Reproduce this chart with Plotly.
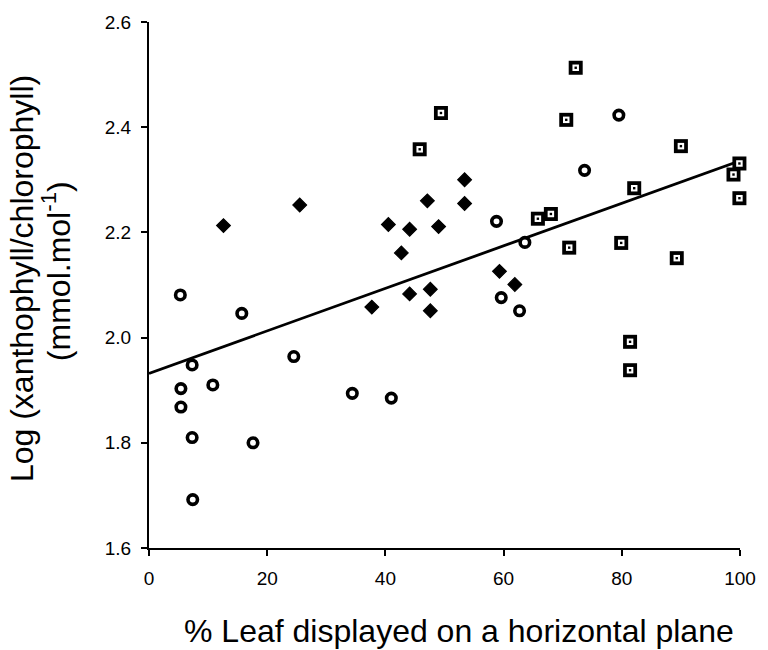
import plotly.graph_objects as go

# ---- data ----
circles_x = [5.3, 5.4, 5.4, 7.3, 7.3, 7.4, 10.8, 17.6, 15.7, 24.5, 34.4, 41.0,
             79.5, 73.7, 58.8, 63.6, 59.6, 62.7]
circles_y = [2.081, 1.903, 1.868, 1.948, 1.810, 1.692, 1.910, 1.800, 2.046, 1.964,
             1.894, 1.885, 2.423, 2.318, 2.221, 2.181, 2.076, 2.051]

diamonds_x = [12.6, 25.5, 37.7, 40.5, 42.7, 44.1, 44.1, 47.1, 47.6, 47.6, 49.0,
              53.4, 53.4, 59.3, 61.9]
diamonds_y = [2.213, 2.252, 2.058, 2.215, 2.161, 2.206, 2.083, 2.260, 2.092, 2.051,
              2.211, 2.300, 2.255, 2.126, 2.101]

squares_x = [49.4, 45.8, 70.6, 72.2, 90.0, 99.9, 98.9, 99.9, 82.1, 65.8, 68.0,
             71.1, 79.9, 89.3, 81.4, 81.4]
squares_y = [2.427, 2.358, 2.414, 2.513, 2.364, 2.331, 2.310, 2.265, 2.284, 2.226,
             2.235, 2.171, 2.180, 2.151, 1.992, 1.938]

fit_x = [0, 100]
fit_y = [1.932, 2.336]

x_ticks = [0, 20, 40, 60, 80, 100]
y_ticks = [1.6, 1.8, 2.0, 2.2, 2.4, 2.6]

FONT = "Liberation Sans, Arial, sans-serif"

fig = go.Figure()

fig.add_trace(go.Scatter(x=fit_x, y=fit_y, mode="lines",
                         line=dict(color="black", width=2.8),
                         hoverinfo="skip", cliponaxis=False))

fig.add_trace(go.Scatter(x=circles_x, y=circles_y, mode="markers",
                         marker=dict(symbol="circle", size=9.5, color="white",
                                     line=dict(color="black", width=3.6)),
                         cliponaxis=False))

fig.add_trace(go.Scatter(x=diamonds_x, y=diamonds_y, mode="markers",
                         marker=dict(symbol="diamond", size=10.5, color="black",
                                     line=dict(color="black", width=1.2)),
                         cliponaxis=False))

# squares: black square, white inner square, black centre dot
fig.add_trace(go.Scatter(x=squares_x, y=squares_y, mode="markers",
                         marker=dict(symbol="square", size=14, color="black",
                                     line=dict(width=0)),
                         cliponaxis=False))
fig.add_trace(go.Scatter(x=squares_x, y=squares_y, mode="markers",
                         marker=dict(symbol="square", size=6.5, color="white",
                                     line=dict(width=0)),
                         cliponaxis=False))
fig.add_trace(go.Scatter(x=squares_x, y=squares_y, mode="markers",
                         marker=dict(symbol="square", size=2.4, color="black",
                                     line=dict(width=0)),
                         cliponaxis=False))

fig.update_layout(
    width=768, height=650,
    margin=dict(l=149, r=20, t=16, b=102),
    paper_bgcolor="white", plot_bgcolor="white",
    showlegend=False,
    font=dict(family=FONT, color="black"),
    xaxis=dict(range=[0, 100], tickvals=x_ticks, ticktext=[str(v) for v in x_ticks],
               showline=True, linecolor="black", linewidth=2,
               ticks="outside", ticklen=6, tickwidth=1.5, tickcolor="black",
               showgrid=False, zeroline=False,
               tickfont=dict(size=19, family=FONT, color="black"),
               ticklabelstandoff=6),
    yaxis=dict(range=[1.6, 2.6], tickvals=y_ticks,
               ticktext=["%.1f" % v for v in y_ticks],
               showline=True, linecolor="black", linewidth=2,
               ticks="outside", ticklen=6, tickwidth=1.5, tickcolor="black",
               showgrid=False, zeroline=False,
               tickfont=dict(size=19, family=FONT, color="black"),
               ticklabelstandoff=6),
    annotations=[
        dict(text="% Leaf displayed on a horizontal plane",
             xref="paper", yref="paper", x=0.524, y=-0.157,
             xanchor="center", yanchor="middle", showarrow=False,
             font=dict(size=32, family=FONT, color="black")),
        dict(text="Log (xanthophyll/chlorophyll)",
             xref="paper", yref="paper", x=-0.215, y=0.513,
             xanchor="center", yanchor="middle", showarrow=False, textangle=-90,
             font=dict(size=32, family=FONT, color="black")),
        dict(text="(mmol.mol<sup>-1</sup>)",
             xref="paper", yref="paper", x=-0.156, y=0.526,
             xanchor="center", yanchor="middle", showarrow=False, textangle=-90,
             font=dict(size=32, family=FONT, color="black")),
    ],
)

fig.write_html("out.html")
